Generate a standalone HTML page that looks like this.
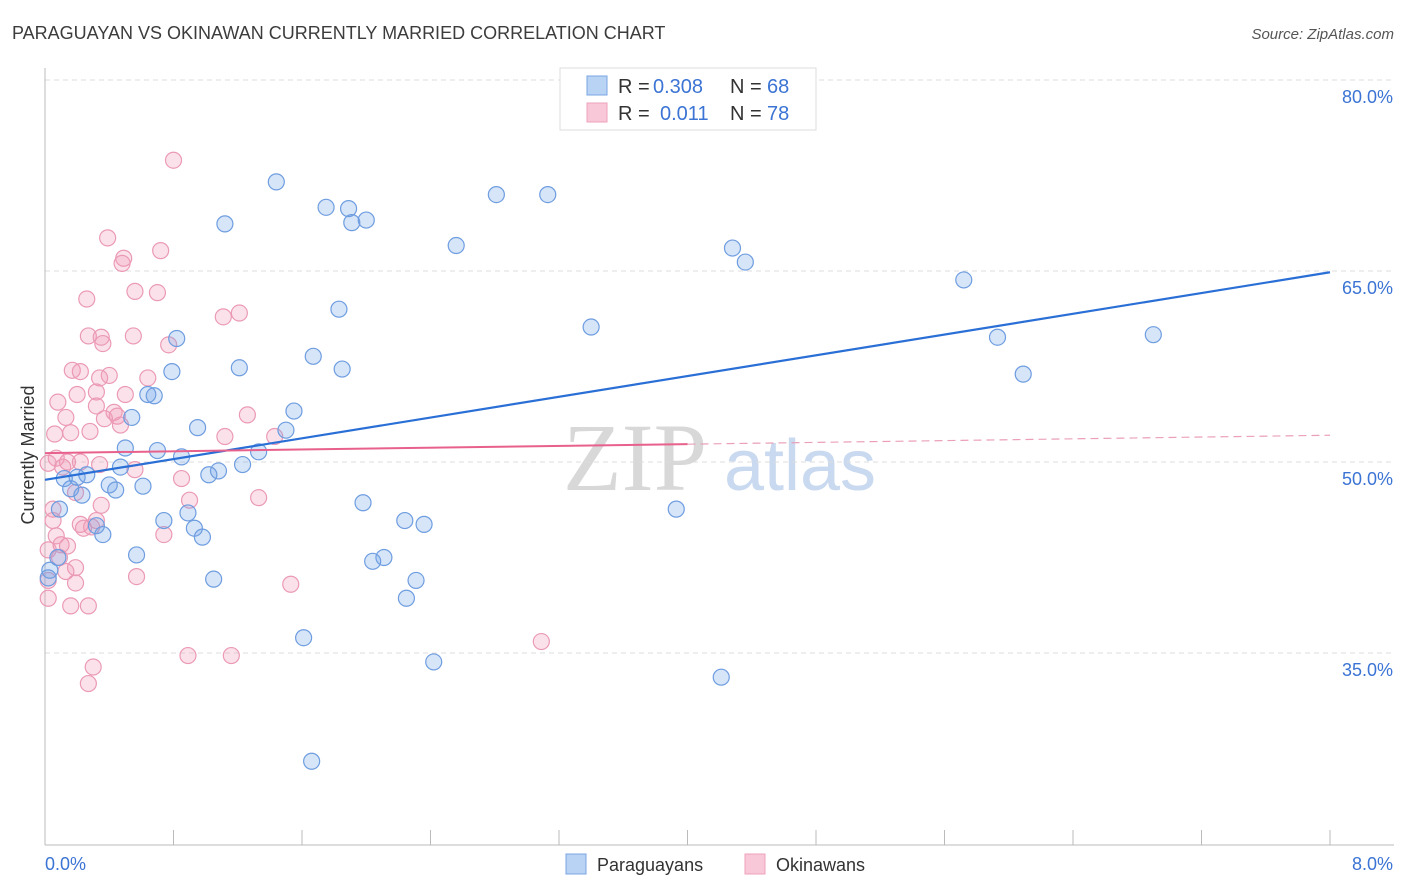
<!DOCTYPE html>
<html><head><meta charset="utf-8">
<style>
body{margin:0;background:#fff;font-family:"Liberation Sans",sans-serif;}
#wrap{position:relative;width:1406px;height:892px;overflow:hidden;}
</style></head>
<body>
<div id="wrap">
<svg id="chart" width="1406" height="892" xmlns="http://www.w3.org/2000/svg">
<text x="12" y="39" font-size="18" fill="#3c3c3c">PARAGUAYAN VS OKINAWAN CURRENTLY MARRIED CORRELATION CHART</text>
<text x="1394" y="39" font-size="15" fill="#555" font-style="italic" text-anchor="end">Source: ZipAtlas.com</text>
<text x="635" y="490" font-size="96" fill="#d8d8d8" font-family="Liberation Serif" text-anchor="middle">ZIP</text>
<text x="800" y="490" font-size="72" fill="#c9d9f0" text-anchor="middle">atlas</text>
<g id="grid"></g>
<g id="axes"></g>
<g id="pts"></g>
<g id="trend"></g>
<text x="34" y="455" font-size="18" fill="#333" text-anchor="middle" transform="rotate(-90 34 455)">Currently Married</text>
<g>
<rect x="560" y="68" width="256" height="62" fill="#fff" stroke="#ddd"/>
<rect x="587" y="76" width="20" height="19" fill="#b9d3f5" stroke="#7aa5e3"/>
<rect x="587" y="103" width="20" height="19" fill="#f9c8d8" stroke="#eea0ba"/>
<text y="93" font-size="20"><tspan x="618" fill="#333">R = </tspan><tspan x="653" fill="#3b74d4">0.308</tspan><tspan x="730" fill="#333">N = </tspan><tspan x="767" fill="#3b74d4">68</tspan></text>
<text y="120" font-size="20"><tspan x="618" fill="#333">R = </tspan><tspan x="660" fill="#3b74d4">0.011</tspan><tspan x="730" fill="#333">N = </tspan><tspan x="767" fill="#3b74d4">78</tspan></text>
</g>
<g>
<rect x="566" y="854" width="20" height="20" fill="#b9d3f5" stroke="#7aa5e3"/>
<text x="597" y="871" font-size="18" fill="#333">Paraguayans</text>
<rect x="745" y="854" width="20" height="20" fill="#f9c8d8" stroke="#eea0ba"/>
<text x="776" y="871" font-size="18" fill="#333">Okinawans</text>
</g>
</svg>
</div>
<script>
const blueX=[1.44,1.75,1.89,1.91,2.00,1.12,2.81,3.13,2.56,4.28,4.36,5.72,1.83,3.40,0.82,5.93,6.90,6.09,1.67,1.85,1.21,0.79,0.64,0.68,0.54,1.55,1.50,0.95,0.50,0.70,0.85,1.33,1.23,0.47,1.08,1.02,0.12,0.20,0.26,0.40,0.61,0.44,0.16,0.23,1.98,0.09,0.74,0.89,2.24,2.36,0.32,0.93,0.36,0.98,3.93,0.57,2.11,2.04,0.08,0.03,0.02,1.05,2.31,2.25,1.61,2.42,4.21,1.66];
const blueY=[72.0,70.0,69.9,68.8,69.0,68.7,71.0,71.0,67.0,66.8,65.7,64.3,62.0,60.6,59.7,59.8,60.0,56.9,58.3,57.3,57.4,57.1,55.3,55.2,53.5,54.0,52.5,52.7,51.1,50.9,50.4,50.8,49.8,49.6,49.3,49.0,48.7,48.8,49.0,48.2,48.1,47.8,47.9,47.4,46.8,46.3,45.4,46.0,45.4,45.1,45.0,44.8,44.3,44.1,46.3,42.7,42.5,42.2,42.5,41.5,40.9,40.8,40.7,39.3,36.2,34.3,33.1,26.5];
const pinkX=[0.80,0.39,0.72,0.49,0.48,0.56,0.70,0.26,1.11,1.21,0.27,0.35,0.55,0.36,0.77,0.17,0.22,0.34,0.40,0.64,0.08,0.20,0.32,0.50,0.13,0.43,0.32,1.26,0.45,0.37,0.28,0.16,0.06,0.47,1.12,1.43,0.14,0.22,0.34,0.07,0.02,0.11,0.56,0.85,0.19,1.33,0.90,0.35,0.05,0.32,0.22,0.24,0.29,0.05,0.74,0.07,0.10,0.14,0.02,0.09,0.19,0.13,0.02,0.57,0.19,1.53,0.02,0.16,0.27,3.09,0.89,1.16,0.30,0.27];
const pinkY=[73.7,67.6,66.6,66.0,65.6,63.4,63.3,62.8,61.4,61.7,59.9,59.8,59.9,59.3,59.2,57.2,57.1,56.6,56.8,56.6,54.7,55.3,55.5,55.3,53.5,53.9,54.4,53.7,53.6,53.4,52.4,52.3,52.2,52.9,52.0,52.0,50.0,50.0,49.8,50.3,49.9,49.6,49.4,48.7,47.6,47.2,47.0,46.6,46.3,45.4,45.1,44.8,44.9,45.4,44.3,44.2,43.5,43.4,43.1,42.5,41.7,41.4,40.7,41.0,40.5,40.4,39.3,38.7,38.7,35.9,34.8,34.8,33.9,32.6];
const yTicks=[80,65,50,35];
const xTickLabels=["0.0%","8.0%"];
const blueTrend=[48.6,64.9];
const pinkTrend=[50.7,52.1];
const NS="http://www.w3.org/2000/svg";
const X0=45,X1=1330;
function xs(v){return X0+(v/8)*(X1-X0);}
function ys(v){return 80+(80-v)*(191/15);}
function mk(tag,attrs,parent){const e=document.createElementNS(NS,tag);for(const k in attrs)e.setAttribute(k,attrs[k]);parent.appendChild(e);return e;}
const grid=document.getElementById('grid'),axes=document.getElementById('axes'),pts=document.getElementById('pts'),trend=document.getElementById('trend');
yTicks.forEach(t=>{
 const l=mk('line',{x1:X0,x2:1394,y1:ys(t),y2:ys(t),stroke:'#ddd','stroke-dasharray':'5,4'},grid);
 
 
 const tx=mk('text',{x:1393,y:ys(t)+23,'font-size':18,fill:'#3b74d4','text-anchor':'end'},axes);
 tx.textContent=t.toFixed(1)+'%';
 
 
});
const ax=mk('line',{x1:X0,x2:X0,y1:68,y2:845,stroke:'#bbb'},axes);


const bx=mk('line',{x1:X0,x2:1394,y1:845,y2:845,stroke:'#bbb'},axes);


for(let i=0;i<=10;i++){
 const t=mk('line',{x1:xs(i*0.8),x2:xs(i*0.8),y1:830,y2:845,stroke:'#bbb'},axes);
 
 
}
[[0,45,'start'],[8,1393,'end']].forEach((d,i)=>{
 const t=mk('text',{x:d[1],y:870,'font-size':18,fill:'#3b74d4','text-anchor':d[2]},axes);
 t.textContent=xTickLabels[i];
 
 
});
function dots(X,Y,fill,stroke,name){
 X.forEach((x,i)=>{
  const c=mk('circle',{cx:xs(x),cy:ys(Y[i]),r:8,fill:fill,stroke:stroke,'stroke-width':1.2},pts);
  
  
 });
}
dots(pinkX,pinkY,'rgba(240,150,180,0.28)','#eb9ab6','okinawan-point');
dots(blueX,blueY,'rgba(110,160,230,0.28)','#6e9de0','paraguayan-point');
const bl=mk('line',{x1:xs(0),y1:ys(blueTrend[0]),x2:xs(8),y2:ys(blueTrend[1]),stroke:'#2a6fd6','stroke-width':2.2},trend);


const pm=pinkTrend[0]+(pinkTrend[1]-pinkTrend[0])*0.5;
const pl=mk('line',{x1:xs(0),y1:ys(pinkTrend[0]),x2:xs(4),y2:ys(pm),stroke:'#e8608c','stroke-width':2},trend);


const pd=mk('line',{x1:xs(4),y1:ys(pm),x2:xs(8),y2:ys(pinkTrend[1]),stroke:'#eba0b8','stroke-width':1.2,'stroke-dasharray':'8,5'},trend);


</script>
</body></html>
